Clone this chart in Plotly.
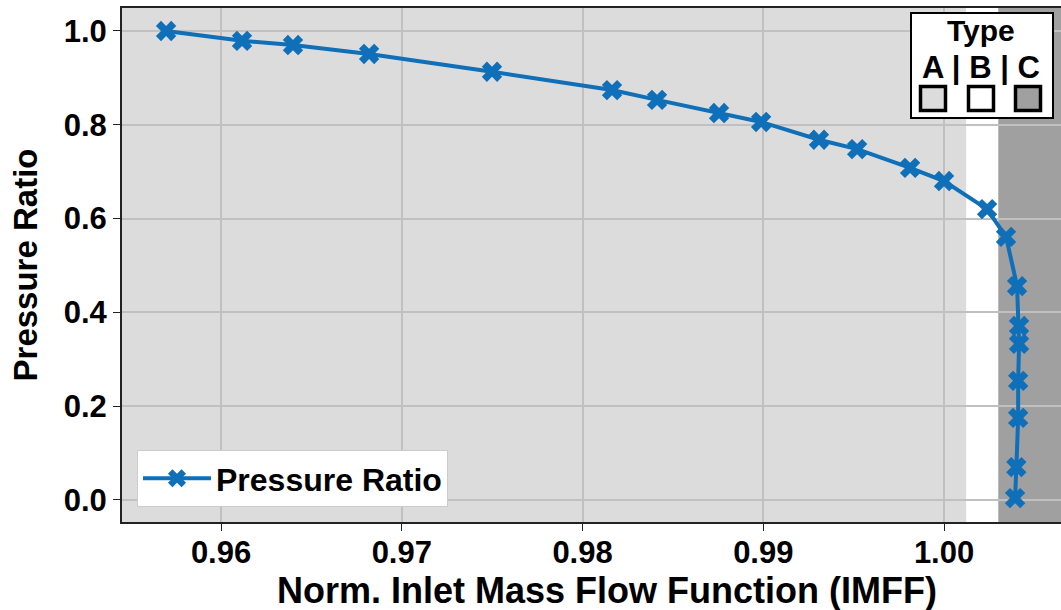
import plotly.graph_objects as go

# ---- data ----
imff = [0.95696, 0.96116, 0.96398, 0.96819, 0.97499, 0.98163, 0.98412, 0.98755,
        0.98988, 0.99308, 0.99519, 0.99812, 1.00000, 1.00238, 1.00343, 1.00404,
        1.00415, 1.00415, 1.00410, 1.00410, 1.00400, 1.00393]
pressure_ratio = [1.000, 0.979, 0.970, 0.951, 0.913, 0.874, 0.853, 0.825,
                  0.806, 0.768, 0.748, 0.708, 0.680, 0.620, 0.561, 0.456,
                  0.371, 0.333, 0.254, 0.175, 0.070, 0.004]
series_name = "Pressure Ratio"
x_title = "Norm. Inlet Mass Flow Function (IMFF)"
y_title = "Pressure Ratio"
x_range = [0.95452, 1.00647]
y_range = [-0.047, 1.049]
region_a_end = 1.00122   # light gray region: left edge -> here
region_c_start = 1.00300  # dark gray region: here -> right edge
type_title = "Type"
type_row = "A | B | C"
type_colors = ["#dcdcdc", "#ffffff", "#a0a0a0"]

W, H = 1061, 610
ML, MR, MT, MB = 122, 0, 8, 88
PW, PH = W - ML - MR, H - MT - MB

def px(x):
    return (x - ML) / PW

def py(y):
    return (H - MB - y) / PH

FONT = "Liberation Sans, Arial, sans-serif"
LINE_COLOR = "#0f6fb8"

fig = go.Figure()
fig.add_trace(go.Scatter(
    x=imff, y=pressure_ratio, mode="lines+markers", name=series_name,
    line=dict(color=LINE_COLOR, width=4),
    marker=dict(symbol="x", size=18, color=LINE_COLOR),
))

shapes = [
    dict(type="rect", xref="x", yref="paper", x0=x_range[0], x1=region_a_end, y0=0, y1=1,
         fillcolor="#dcdcdc", line=dict(width=0), layer="below"),
    dict(type="rect", xref="x", yref="paper", x0=region_c_start, x1=x_range[1], y0=0, y1=1,
         fillcolor="#a0a0a0", line=dict(width=0), layer="below"),
    # Type box
    dict(type="rect", xref="paper", yref="paper", x0=px(911), x1=px(1053), y0=py(118), y1=py(13),
         fillcolor="white", line=dict(color="black", width=2), layer="above"),
]
annotations = [
    dict(text=type_title, xref="paper", yref="paper", x=px(981), y=py(31), showarrow=False,
         font=dict(family=FONT, size=30, color="black", weight="bold"), xanchor="center", yanchor="middle"),
    dict(text=type_row, xref="paper", yref="paper", x=px(981), y=py(67), showarrow=False,
         font=dict(family=FONT, size=31, color="black", weight="bold"), xanchor="center", yanchor="middle"),
    dict(text=x_title, xref="paper", yref="paper", x=px(607), y=py(590), showarrow=False,
         font=dict(family=FONT, size=36, color="black", weight="bold"), xanchor="center", yanchor="middle"),
]
centers = [933, 981, 1028]
for cx, col in zip(centers, type_colors):
    shapes.append(dict(type="rect", xref="paper", yref="paper", x0=px(cx - 12.5), x1=px(cx + 12.5),
                       y0=py(110.5), y1=py(86.5), fillcolor=col, line=dict(color="black", width=3.5),
                       layer="above"))

fig.update_layout(
    width=W, height=H,
    margin=dict(l=ML, r=MR, t=MT, b=MB),
    plot_bgcolor="white", paper_bgcolor="white",
    font=dict(family=FONT, color="black"),
    shapes=shapes, annotations=annotations,
    showlegend=True,
    legend=dict(x=px(137), y=py(507), xanchor="left", yanchor="bottom",
                bgcolor="white", bordercolor="#cccccc", borderwidth=1,
                font=dict(family=FONT, size=32, color="black", weight="bold"),
                itemwidth=68),
)
fig.update_xaxes(
    range=x_range, dtick=0.01, tick0=0.96, tickformat=".2f",
    showgrid=True, gridcolor="#c0c0c0", gridwidth=2,
    showline=True, linecolor="#222222", linewidth=2, mirror=True,
    ticks="outside", ticklen=7, tickcolor="#222222", ticklabelstandoff=-5,
    tickfont=dict(family=FONT, size=31, color="black", weight="bold"),
    zeroline=False,
)
fig.update_yaxes(
    range=y_range, dtick=0.2, tick0=0, tickformat=".1f",
    showgrid=True, gridcolor="#c0c0c0", gridwidth=2,
    showline=True, linecolor="#222222", linewidth=2,
    ticks="outside", ticklen=7, tickcolor="#222222",
    tickfont=dict(family=FONT, size=31, color="black", weight="bold"),
    title=dict(text=y_title, font=dict(family=FONT, size=33, color="black", weight="bold"), standoff=16),
    zeroline=False,
)

fig.write_html("out.html")
